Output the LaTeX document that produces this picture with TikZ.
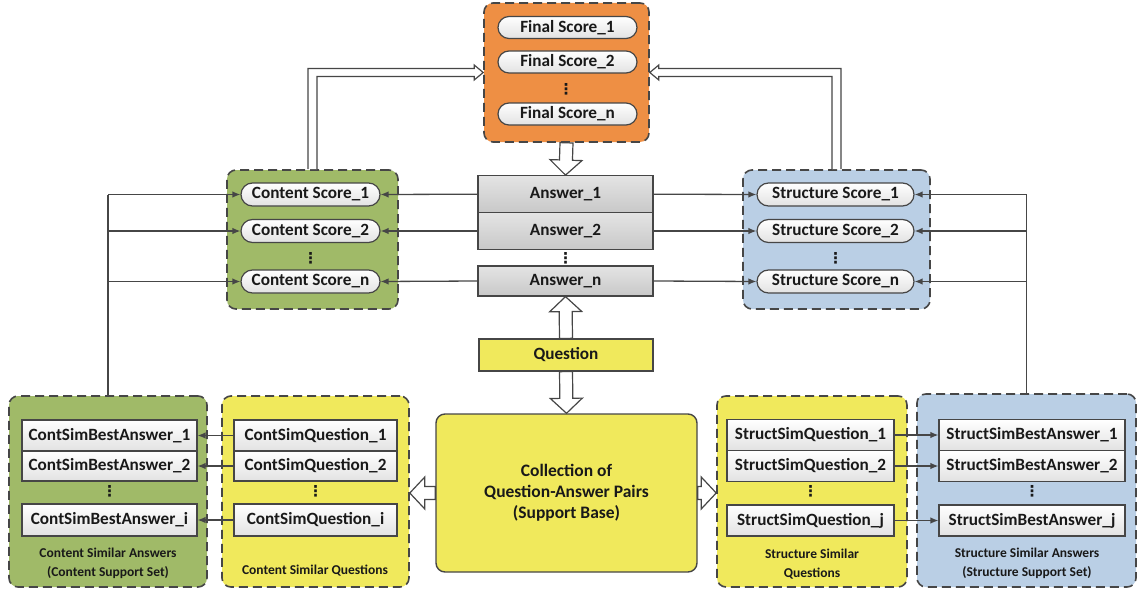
\documentclass[tikz,border=0pt]{standalone}
\usepackage{fontspec}
\setmainfont{Carlito}
\newfontfamily\symfam{DejaVu Sans}
\usetikzlibrary{shapes.misc,arrows.meta,calc}

\definecolor{dk}{RGB}{70,70,70}
\definecolor{txt}{RGB}{25,25,25}
\definecolor{orangefill}{RGB}{238,143,68}
\definecolor{greenfill}{RGB}{160,186,104}
\definecolor{bluefill}{RGB}{186,207,229}
\definecolor{yellowfill}{RGB}{240,233,92}
\definecolor{anstop}{RGB}{228,228,228}
\definecolor{ansbot}{RGB}{200,200,200}
\definecolor{cellbot}{RGB}{226,226,226}

% straight hollow block arrow from #1 to the tip #2
\newcommand\hollowarrow[2]{%
  \coordinate (hb) at ($(#2)!15pt!(#1)$);
  \draw[hollow] ($(#1)!6.5pt!90:(#2)$) -- ($(hb)!6.5pt!90:(#2)$)
    -- ($(hb)!16pt!90:(#2)$) -- (#2) -- ($(hb)!16pt!-90:(#2)$)
    -- ($(hb)!6.5pt!-90:(#2)$) -- ($(#1)!6.5pt!-90:(#2)$) -- cycle;}

\begin{document}
\begin{tikzpicture}[x=1pt,y=-1pt,
  every node/.style={text=txt,font=\bfseries\fontsize{17.2}{20}\selectfont},
  grp/.style={draw=dk,line width=1.6pt,dash pattern=on 9pt off 5pt,
    rounded corners=9pt,inner sep=0pt},
  pill/.style={rounded rectangle,draw=dk,line width=1.2pt,top color=white,
    bottom color=cellbot,inner sep=0pt,minimum height=23pt},
  cell/.style={rectangle,draw=dk,line width=1.2pt,top color=white,
    bottom color=cellbot,inner sep=0pt},
  ans/.style={rectangle,draw=dk,line width=1.2pt,top color=anstop,
    bottom color=ansbot,inner sep=0pt,minimum width=175pt},
  hollow/.style={draw=dk,line width=1.2pt,fill=white,line join=miter},
  link/.style={draw=dk,line width=1.3pt,-{Latex[length=8pt,width=6.5pt]}},
  plain/.style={draw=dk,line width=1.3pt},
  grplabel/.style={font=\bfseries\fontsize{13.5}{19}\selectfont,align=center},
  vdot/.style={inner sep=0pt,font=\symfam\bfseries\fontsize{15}{15}\selectfont}]

\useasboundingbox (0,0) rectangle (1138,594);

% ---------- group frames ----------
\node[grp,fill=orangefill,minimum width=165pt,minimum height=139pt] (fgrp) at (566.5,72.5) {};
\node[grp,fill=greenfill,minimum width=171pt,minimum height=139pt] (cgrp) at (312.5,239.5) {};
\node[grp,fill=bluefill,minimum width=187pt,minimum height=139pt] (sgrp) at (836.5,239.5) {};
\node[grp,fill=greenfill,minimum width=198pt,minimum height=191pt] (csagrp) at (108,491.5) {};
\node[grp,fill=yellowfill,minimum width=187pt,minimum height=191pt] (csqgrp) at (315.5,491.5) {};
\node[grp,fill=yellowfill,minimum width=190pt,minimum height=191pt] (ssqgrp) at (812,491.5) {};
\node[grp,fill=bluefill,minimum width=219pt,minimum height=193pt] (ssagrp) at (1026.5,490.5) {};

% ---------- final scores ----------
\node[pill,minimum width=139pt,minimum height=22pt] (f1) at (567.5,27.5) {Final Score\_1};
\node[pill,minimum width=139pt,minimum height=22pt] (f2) at (567.5,62) {Final Score\_2};
\node[vdot] (fd) at (566,89) {⋮};
\node[pill,minimum width=139pt,minimum height=22pt] (fn) at (567.5,114) {Final Score\_n};

% ---------- content scores ----------
\node[pill,minimum width=139pt] (cs1) at (310.5,194.5) {Content Score\_1};
\node[pill,minimum width=139pt] (cs2) at (310.5,231) {Content Score\_2};
\node[vdot] (csd) at (310.5,258) {⋮};
\node[pill,minimum width=139pt] (csn) at (310.5,281.5) {Content Score\_n};

% ---------- structure scores ----------
\node[pill,minimum width=157pt] (ss1) at (835.5,194.5) {Structure Score\_1};
\node[pill,minimum width=157pt] (ss2) at (835.5,231) {Structure Score\_2};
\node[vdot] (ssd) at (835.5,258) {⋮};
\node[pill,minimum width=157pt] (ssn) at (835.5,281.5) {Structure Score\_n};

% ---------- answers and question ----------
\node[ans,minimum height=37pt] (a1) at (565.5,194.2) {Answer\_1};
\node[ans,minimum height=36.6pt] (a2) at (565.5,231) {Answer\_2};
\node[vdot] (ad) at (565.5,258) {⋮};
\node[ans,minimum height=30pt] (an) at (565.5,281) {Answer\_n};
\node[rectangle,draw=dk,line width=1.2pt,fill=yellowfill,minimum width=174pt,
  minimum height=32pt,inner sep=0pt] (q) at (566,355) {Question};

% ---------- support base ----------
\node[draw=dk,line width=1.4pt,fill=yellowfill,rounded corners=9pt,
  minimum width=261pt,minimum height=158pt,align=center,
  font=\bfseries\fontsize{17.5}{21}\selectfont] (coll) at (566.5,493)
  {Collection of\\Question-Answer Pairs\\(Support Base)};

% ---------- content similar answers / questions ----------
\node[cell,minimum width=175pt,minimum height=31pt] (cba1) at (109.5,435.5) {ContSimBestAnswer\_1};
\node[cell,minimum width=175pt,minimum height=30pt] (cba2) at (109.5,466) {ContSimBestAnswer\_2};
\node[vdot] (cbad) at (109.5,491) {⋮};
\node[cell,minimum width=175pt,minimum height=32pt] (cbai) at (109.5,520) {ContSimBestAnswer\_i};
\node[grplabel] (csalab) at (108,563.5) {Content Similar Answers\\(Content Support Set)};

\node[cell,minimum width=163pt,minimum height=31pt] (cq1) at (315.5,435.5) {ContSimQuestion\_1};
\node[cell,minimum width=163pt,minimum height=30pt] (cq2) at (315.5,466) {ContSimQuestion\_2};
\node[vdot] (cqd) at (315.5,491) {⋮};
\node[cell,minimum width=163pt,minimum height=32pt] (cqi) at (315.5,520) {ContSimQuestion\_i};
\node[grplabel] (csqlab) at (315,571) {Content Similar Questions};

% ---------- structure similar questions / answers ----------
\node[cell,minimum width=167pt,minimum height=31pt] (sq1) at (810.5,435) {StructSimQuestion\_1};
\node[cell,minimum width=167pt,minimum height=31pt] (sq2) at (810.5,466) {StructSimQuestion\_2};
\node[vdot] (sqd) at (810.5,491) {⋮};
\node[cell,minimum width=167pt,minimum height=31pt] (sqj) at (810.5,520.5) {StructSimQuestion\_j};
\node[grplabel] (ssqlab) at (812,564) {Structure Similar\\Questions};

\node[cell,minimum width=186pt,minimum height=31pt] (sba1) at (1032,435) {StructSimBestAnswer\_1};
\node[cell,minimum width=186pt,minimum height=31pt] (sba2) at (1032,466) {StructSimBestAnswer\_2};
\node[vdot] (sbad) at (1032,491) {⋮};
\node[cell,minimum width=186pt,minimum height=31pt] (sbaj) at (1032,520.5) {StructSimBestAnswer\_j};
\node[grplabel] (ssalab) at (1027,563.5) {Structure Similar Answers\\(Structure Support Set)};

% ---------- thin connectors ----------
\draw[link] (a1.west) -- (cs1.east);
\draw[link] (a2.west) -- (cs2.east);
\draw[link] (an.west) -- (csn.east);
\draw[link] (a1.east) -- (ss1.west);
\draw[link] (a2.east) -- (ss2.west);
\draw[link] (an.east) -- (ssn.west);

\draw[plain] (csagrp.north) -- (csagrp.north |- cs1);
\draw[link] (csagrp.north |- cs1) -- (cs1.west);
\draw[link] (csagrp.north |- cs2) -- (cs2.west);
\draw[link] (csagrp.north |- csn) -- (csn.west);

\draw[plain] (ssagrp.north) -- (ssagrp.north |- ss1);
\draw[link] (ssagrp.north |- ss1) -- (ss1.east);
\draw[link] (ssagrp.north |- ss2) -- (ss2.east);
\draw[link] (ssagrp.north |- ssn) -- (ssn.east);

\draw[link] (cq1.west) -- (cba1.east);
\draw[link] (cq2.west) -- (cba2.east);
\draw[link] (cqi.west) -- (cbai.east);
\draw[link] (sq1.east) -- (sba1.west);
\draw[link] (sq2.east) -- (sba2.west);
\draw[link] (sqj.east) -- (sbaj.west);

% ---------- hollow block arrows ----------
\hollowarrow{fgrp.south}{a1.north}
\hollowarrow{q.north}{an.south}
\hollowarrow{q.south}{coll.north}
\hollowarrow{coll.west}{coll.west -| csqgrp.east}
\hollowarrow{coll.east}{coll.east -| ssqgrp.west}

% bent double-line arrows from the score groups up to the final scores
\draw[hollow] let \p1=(cgrp.north), \p2=(fgrp.west) in
  (\x1-4.5pt,\y1) -- (\x1-4.5pt,\y2+4pt) -- (\x2-9pt,\y2+4pt)
  -- (\x2-9pt,\y2+7.5pt) -- (\x2,\y2) -- (\x2-9pt,\y2-7.5pt)
  -- (\x2-9pt,\y2-4pt) -- (\x1+4.5pt,\y2-4pt) -- (\x1+4.5pt,\y1);
\draw[hollow] let \p1=(sgrp.north), \p2=(fgrp.east) in
  (\x1+4.5pt,\y1) -- (\x1+4.5pt,\y2+4pt) -- (\x2+9pt,\y2+4pt)
  -- (\x2+9pt,\y2+7.5pt) -- (\x2,\y2) -- (\x2+9pt,\y2-7.5pt)
  -- (\x2+9pt,\y2-4pt) -- (\x1-4.5pt,\y2-4pt) -- (\x1-4.5pt,\y1);
\end{tikzpicture}
\end{document}
